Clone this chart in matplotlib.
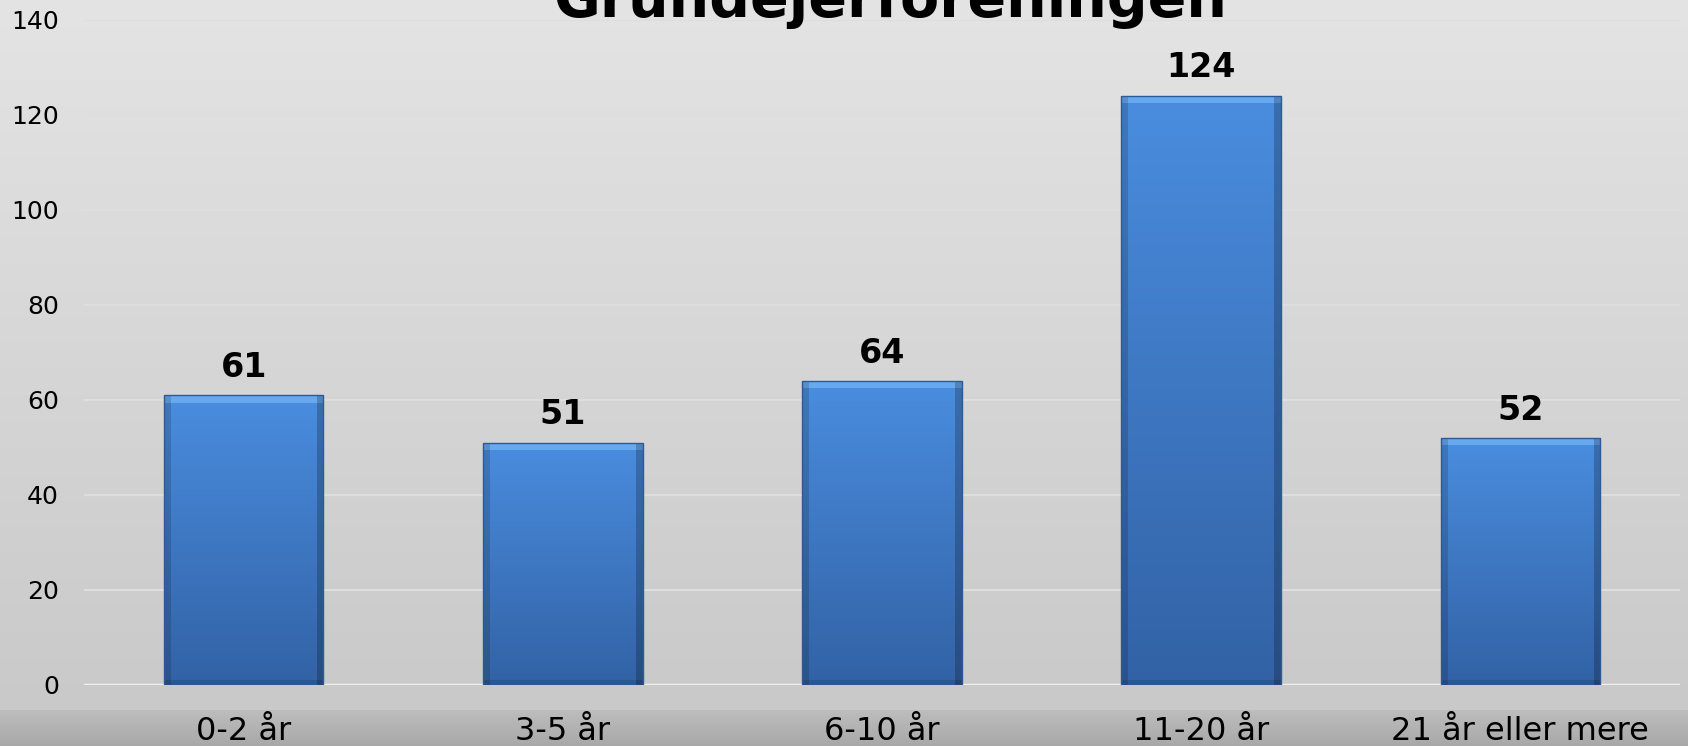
import numpy as np
import matplotlib.pyplot as plt
from matplotlib.colors import to_rgb

categories = ['0-2 år', '3-5 år', '6-10 år', '11-20 år', '21 år eller mere']
values = [61, 51, 64, 124, 52]
title = 'Grundejerforeningen'

W, H = 1688, 746
fig = plt.figure(figsize=(W / 100, H / 100), dpi=100)

# background gradient over the whole figure
bg = fig.add_axes([0, 0, 1, 1], zorder=0)
rows = np.arange(H)
top_c, mid_c = np.array(to_rgb('#e4e4e4')), np.array(to_rgb('#c9c9c9'))
low_a, low_b = np.array(to_rgb('#bdbdbd')), np.array(to_rgb('#a8a8a8'))
img = np.zeros((H, 1, 3))
for r in rows:
    if r < 710:
        t = r / 710
        img[r, 0] = top_c * (1 - t) + mid_c * t
    else:
        t = (r - 710) / (H - 710)
        img[r, 0] = low_a * (1 - t) + low_b * t
bg.imshow(img, aspect='auto', extent=[0, 1, 0, 1], origin='upper')
bg.set_axis_off()

ax = fig.add_axes([84 / W, 61 / H, 1596 / W, 665.5 / H], zorder=1)
ax.patch.set_alpha(0)
x = np.arange(len(categories))
bars = ax.bar(x, values, width=0.5, color='none', edgecolor='#2d5a96', linewidth=1, zorder=3)

ax.set_xlim(-0.5, len(categories) - 0.5)
ax.set_ylim(0, 140)

# gradient + bevel fill for each bar
px_per_unit = 665.5 / 140
c_top, c_bot = np.array(to_rgb('#4a8ddf')), np.array(to_rgb('#3262a5'))
hi = np.array(to_rgb('#72b3f6'))
for b in bars:
    h = b.get_height()
    n = max(int(h * px_per_unit), 10)
    t = np.linspace(0, 1, n)[:, None, None]
    g = c_top * (1 - t) + c_bot * t
    g = np.repeat(g, 160, axis=1)
    g[:8] = hi * 0.75 + g[:8] * 0.25
    g[:, :7] *= 0.85
    g[:, -7:] *= 0.78
    g[-5:] *= 0.88
    x0 = b.get_x()
    im = ax.imshow(g, aspect='auto', extent=[x0, x0 + b.get_width(), 0, h],
                   origin='upper', zorder=2)
    im.set_clip_path(b)

ax.set_xlim(-0.5, len(categories) - 0.5)
ax.set_ylim(0, 140)

ax.bar_label(bars, labels=[str(v) for v in values], fontsize=24,
             fontweight='bold', padding=8)

ax.set_yticks(np.arange(0, 141, 20))
ax.set_xticks(x)
ax.set_xticklabels(categories)
ax.tick_params(axis='y', length=0, pad=18, labelsize=18)
ax.tick_params(axis='x', length=0, pad=22, labelsize=23)
ax.grid(axis='y', color='#dedede', linewidth=1.5, zorder=0)
ax.set_axisbelow(True)
ax.axhline(0, color='#eeeeee', linewidth=2.5, zorder=1)
for s in ax.spines.values():
    s.set_visible(False)

fig.text(890 / W, 1 - 17 / H, title, ha='center', va='baseline',
         fontsize=41, fontweight='bold', zorder=5)

fig.savefig('out.png', dpi=100)
